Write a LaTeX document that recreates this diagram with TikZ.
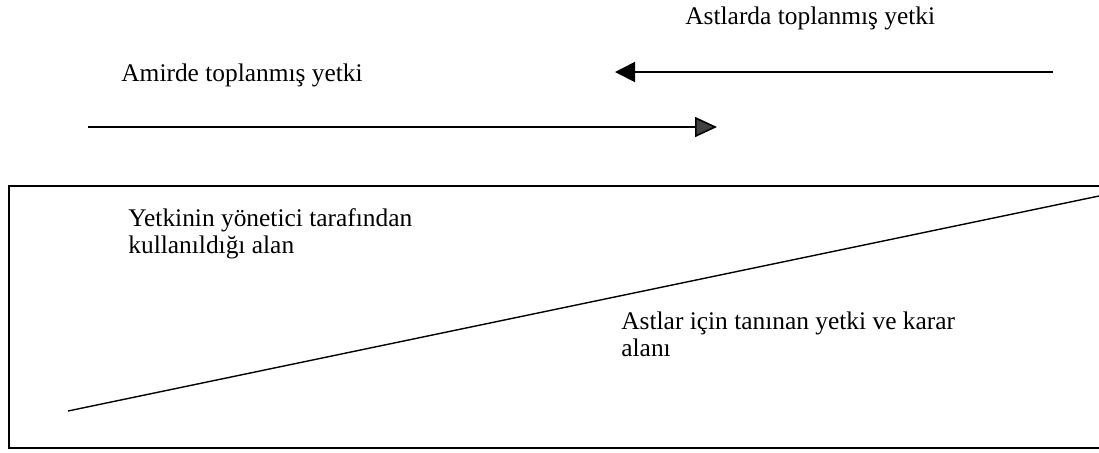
\documentclass[tikz,border=0pt]{standalone}
\usepackage{fontspec}
\setmainfont{Liberation Serif}
\usetikzlibrary{arrows.meta}

\begin{document}
\begin{tikzpicture}[
  x=0.5pt, y=-0.5pt,
  font=\fontsize{12.7}{13.5}\selectfont,
  lbl/.style={inner sep=0pt, align=left},
  flow/.style={line width=0.8pt},
]
  \useasboundingbox (0,0) rectangle (1099,452);

  % labels over the arrows
  \node[lbl, anchor=base west] (astlar) at (685,24) {Astlarda toplanmış yetki};
  \node[lbl, anchor=base west] (amir) at (121,81) {Amirde toplanmış yetki};

  % arrows
  \coordinate (astStart) at (1053,72);
  \coordinate (astEnd) at (615,72);
  \coordinate (amirStart) at (88,127);
  \coordinate (amirEnd) at (717,127);
  \draw[flow, -{Triangle[length=10pt, width=10pt, fill=black]}] (astStart) -- (astEnd);
  \draw[flow, -{Triangle[length=11pt, width=10pt, fill=black!75]}] (amirStart) -- (amirEnd);

  % frame, open on the right
  \coordinate (frameNE) at (1105,186);
  \coordinate (frameNW) at (9,186);
  \coordinate (frameSW) at (9,448);
  \coordinate (frameSE) at (1105,448);
  \draw[line width=0.7pt] (frameNE) -- (frameNW) -- (frameSW) -- (frameSE);

  % dividing line
  \coordinate (divLow) at (68,411);
  \coordinate (divHigh) at (1099,196);
  \draw[line width=0.7pt] (divLow) -- (divHigh);

  % areas
  \node[lbl, anchor=north west] (yonetici) at (128,208) {Yetkinin yönetici tarafından\\kullanıldığı alan};
  \node[lbl, anchor=north west] (karar) at (621,311) {Astlar için tanınan yetki ve karar\\alanı};
\end{tikzpicture}
\end{document}
